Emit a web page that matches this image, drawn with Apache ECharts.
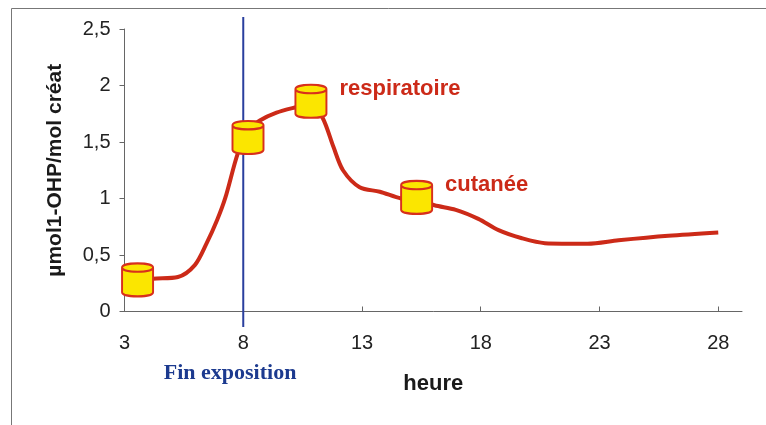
<!DOCTYPE html>
<html lang="fr">
<head>
<meta charset="utf-8">
<title>Excrétion 1-OHP</title>
<style>
    html, body { margin: 0; padding: 0; background: #fff; }
    #main { width: 766px; height: 425px; }
</style>
<script src="https://cdn.jsdelivr.net/npm/echarts@6/dist/echarts.min.js"></script>
</head>
<body>
<div id="main"></div>
<script>
    // valeurs: [heure, umol/mol]
    var curve = [
        [3.55, 0.27], [4.2, 0.29], [5.25, 0.305], [5.96, 0.41], [6.45, 0.6], [6.9, 0.81],
        [7.25, 1.01], [7.77, 1.4], [8.2, 1.6], [8.7, 1.69], [9.4, 1.76],
        [10.25, 1.81], [10.85, 1.84], [11.35, 1.71], [11.8, 1.455], [12.2, 1.25], [12.9, 1.1],
        [13.75, 1.06], [14.65, 1.0], [15.3, 0.99], [16.05, 0.94], [16.95, 0.9], [17.9, 0.82],
        [18.75, 0.72], [19.7, 0.65], [20.7, 0.605], [22.5, 0.6], [23.8, 0.63], [25.9, 0.67], [28, 0.7]
    ];
    var samples = [[3.55, 0.28], [8.2, 1.54], [10.85, 1.86], [15.3, 1.01]];
    var sampleNames = ['', '', 'respiratoire', 'cutanée'];
    var exposureEnd = [[8, 2.606], [8, -0.137]];
    var xTicks = [3, 8, 13, 18, 23, 28];

    // cylindre: corps + bord bas du couvercle (meme sens de trace pour rester rempli)
    var cylinder = 'path://M1 6 C1 1 31 1 31 6 L31 28 C31 33 1 33 1 28 Z M31 6 C31 11 1 11 1 6';
    var red = '#cc2a18';

    var myChart = echarts.init(document.getElementById('main'));

    var option = {
        animation: false,
        backgroundColor: '#ffffff',
        textStyle: { fontFamily: 'Liberation Sans' },
        grid: { left: 124.5, top: 29, width: 617.5, height: 282.5 },
        xAxis: {
            type: 'value',
            min: 3,
            max: 29,
            interval: 5,
            name: 'heure',
            nameLocation: 'middle',
            nameGap: 61,
            nameTextStyle: { fontSize: 22, fontWeight: 'bold', color: '#1a1a1a' },
            splitLine: { show: false },
            axisLine: { lineStyle: { color: '#666', width: 1 } },
            axisTick: { inside: true, length: 5, customValues: xTicks, lineStyle: { color: '#666' } },
            axisLabel: { customValues: xTicks, fontSize: 20, color: '#222', margin: 22 }
        },
        yAxis: {
            type: 'value',
            min: 0,
            max: 2.5,
            interval: 0.5,
            name: 'µmol1-OHP/mol créat',
            nameLocation: 'middle',
            nameGap: 59,
            nameTextStyle: { fontSize: 21, fontWeight: 'bold', color: '#1a1a1a' },
            splitLine: { show: false },
            axisLine: { show: true, lineStyle: { color: '#666', width: 1 } },
            axisTick: { show: true, length: 5, lineStyle: { color: '#666' } },
            axisLabel: {
                fontSize: 20,
                color: '#222',
                margin: 14,
                formatter: function (v) { return String(v).replace('.', ','); }
            }
        },
        series: [
            {
                type: 'line',
                data: exposureEnd,
                clip: false,
                symbol: 'none',
                silent: true,
                lineStyle: { color: '#2a3f9e', width: 2 },
                endLabel: {
                    show: true,
                    offset: [-87.5, 46],
                    formatter: 'Fin exposition',
                    fontFamily: 'Liberation Serif',
                    fontWeight: 'bold',
                    fontSize: 22,
                    color: '#1c3a8f'
                }
            },
            {
                type: 'line',
                data: curve,
                smooth: 0.3,
                symbol: 'none',
                silent: true,
                lineStyle: { color: red, width: 4 }
            },
            {
                type: 'scatter',
                data: samples.map(function (p, i) { return { name: sampleNames[i], value: p }; }),
                symbol: cylinder,
                symbolSize: [31, 33],
                clip: false,
                silent: true,
                itemStyle: { color: '#fbe600', borderColor: '#d8301c', borderWidth: 2, opacity: 1 },
                label: {
                    show: true,
                    position: 'right',
                    distance: 12,
                    offset: [0, -12],
                    formatter: '{b}',
                    fontSize: 22,
                    fontWeight: 'bold',
                    color: red
                },
                z: 5
            }
        ],
        graphic: [
            {
                type: 'polyline',
                silent: true,
                shape: { points: [[11.5, 425], [11.5, 8.5], [766, 8.5]] },
                style: { stroke: '#777', lineWidth: 1, fill: null }
            }
        ]
    };

    myChart.setOption(option);
</script>
</body>
</html>
